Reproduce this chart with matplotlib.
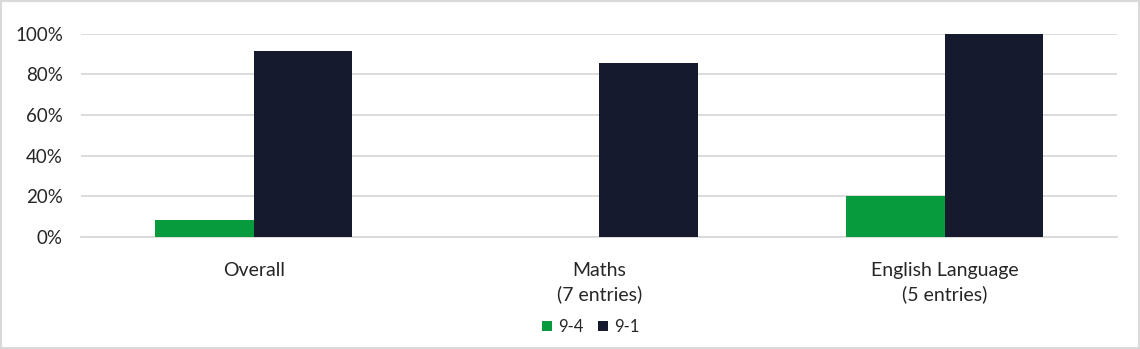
import numpy as np
import matplotlib.pyplot as plt
from matplotlib.patches import Rectangle
from matplotlib.ticker import PercentFormatter

categories = ["Overall", "Maths\n(7 entries)", "English Language\n(5 entries)"]
series_names = ["9-4", "9-1"]
grade_94 = [8.3, 0.0, 20.0]
grade_91 = [91.7, 85.7, 100.0]

GREEN = "#079b3d"
NAVY = "#161a2e"
GRID = "#d9d9d9"
TEXT = "#262626"

plt.rcParams["font.family"] = ["Lato", "DejaVu Sans"]

fig = plt.figure(figsize=(11.4, 3.49), dpi=100)
ax = fig.add_axes([0.0711, 0.321, 0.909, 0.582])

x = np.arange(len(categories))
w = 0.285
ax.bar(x - w / 2, grade_94, w, color=GREEN, label=series_names[0], zorder=3)
ax.bar(x + w / 2, grade_91, w, color=NAVY, label=series_names[1], zorder=3)

ax.set_xlim(-0.5, len(categories) - 0.5)
ax.set_ylim(0, 100)
ax.set_yticks(range(0, 101, 20))
ax.yaxis.set_major_formatter(PercentFormatter(decimals=0))
ax.yaxis.grid(True, color=GRID, linewidth=1.3, zorder=0)
ax.set_axisbelow(True)
for s in ["top", "right", "left"]:
    ax.spines[s].set_visible(False)
ax.spines["bottom"].set_color(GRID)
ax.spines["bottom"].set_linewidth(1.3)
ax.tick_params(axis="both", length=0, labelsize=13.5, colors=TEXT)
ax.tick_params(axis="y", pad=13)
ax.tick_params(axis="x", pad=18)
ax.set_xticks(x)
ax.set_xticklabels(categories, fontsize=14, color=TEXT, linespacing=1.45)

ax.legend(loc="center", bbox_to_anchor=(0.518, 0.063), bbox_transform=fig.transFigure,
          ncol=2, frameon=False, fontsize=12, handlelength=0.6, handleheight=0.6,
          handletextpad=0.35, columnspacing=0.9, labelcolor=TEXT)

fig.patches.append(Rectangle((0.001, 0.002), 0.998, 0.996, transform=fig.transFigure,
                             fill=False, edgecolor=GRID, linewidth=1.5))

fig.savefig("out.png", dpi=100, facecolor="white")
